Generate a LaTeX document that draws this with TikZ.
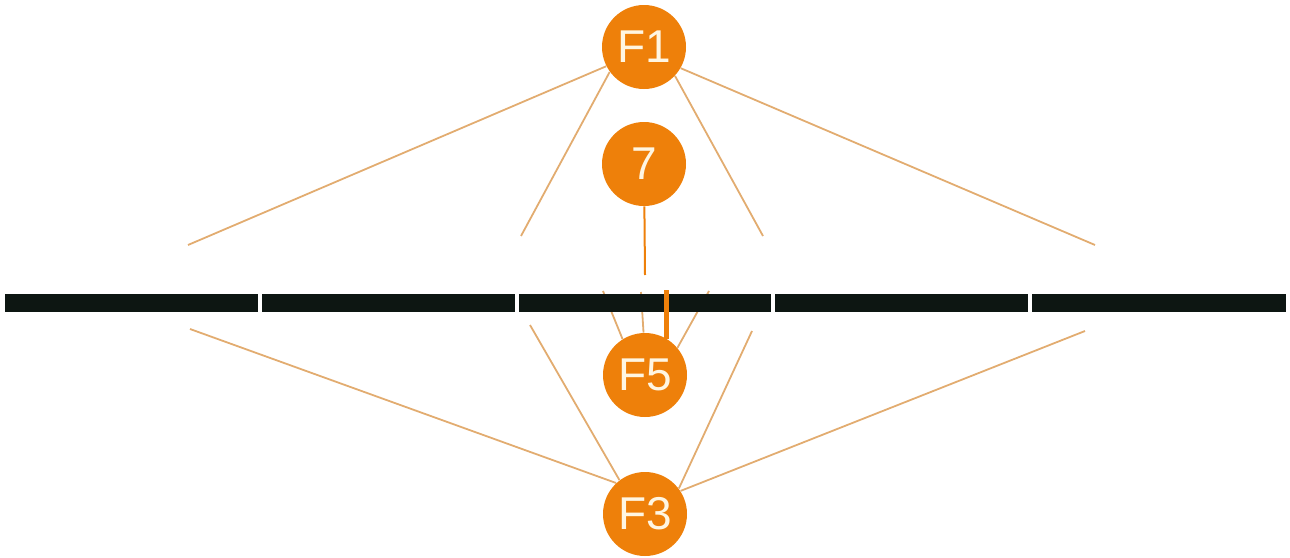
\documentclass[tikz,border=0pt]{standalone}
\usepackage{fontspec}
\setmainfont{Liberation Sans}
\usepackage{tikz}
\usetikzlibrary{positioning}
\definecolor{fnorange}{RGB}{238,128,10}
\definecolor{linktan}{RGB}{226,172,112}
\definecolor{barblack}{RGB}{13,22,18}
\definecolor{labelcream}{RGB}{255,246,226}

\tikzset{
  fnode/.style={circle,fill=fnorange,text=labelcream,minimum size=42pt,inner sep=0pt,
    font=\fontsize{23}{25}\selectfont},
  link/.style={draw=linktan,line width=0.9pt}
}

\begin{document}
\begin{tikzpicture}[x=0.5pt,y=-0.5pt]
    \def\bartop{294}
    \def\barbot{312}
    \useasboundingbox (0,0) rectangle (1290,557);

    % nodes
    \node[fnode] (f1) at (644,47) {F1};
    \node[fnode] (n7) at (644,164) {7};
    \node[fnode] (f5) at (645,375) {F5};
    \node[fnode] (f3) at (645,514) {F3};

    % free ends above the bar
    \coordinate (ua) at (188,245);
    \coordinate (ub) at (521,236);
    \coordinate (uc) at (763,236);
    \coordinate (ud) at (1095,245);
    \coordinate (us) at (645,275);

    % free ends below the bar
    \coordinate (la) at (190,329);
    \coordinate (lb) at (530,325);
    \coordinate (lc) at (752,331);
    \coordinate (ld) at (1085,331);

    % ends of the short links under the bar
    \coordinate (sa) at (603,291);
    \coordinate (sb) at (641,292);
    \coordinate (sc) at (709,291);

    \draw[link] (f1.207) -- (ua);
    \draw[link] (f1.216) -- (ub);
    \draw[link] (f1.317) -- (uc);
    \draw[link] (f1.330) -- (ud);
    \draw[draw=fnorange,line width=1pt] (n7) -- (us);

    \draw[link] (f3.133) -- (la);
    \draw[link] (f3.127) -- (lb);
    \draw[link] (f3.37) -- (lc);
    \draw[link] (f3.33) -- (ld);

    \draw[link] (f5.122) -- (sa);
    \draw[link] (f5.92) -- (sb);
    \draw[link] (f5.40) -- (sc);

    % the bar in five parts
    \foreach \xa/\xb in {5/258,262/515,519/771,775/1028,1032/1286}
      \fill[barblack] (\xa,\bartop) rectangle (\xb,\barbot);

    % marker on the bar
    \coordinate (mtop) at (666,290);
    \coordinate (mbot) at (666,339);
    \draw[draw=fnorange,line width=2.5pt] (mtop) -- (mbot);
\end{tikzpicture}
\end{document}
